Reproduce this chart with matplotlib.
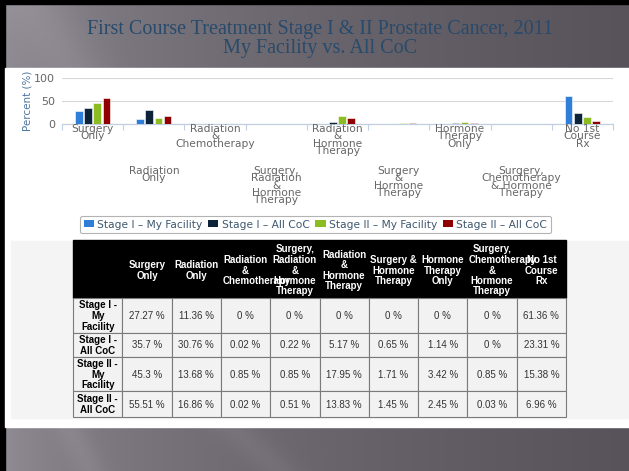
import numpy as np
import matplotlib
matplotlib.use('Agg')
from matplotlib import pyplot as plt
from matplotlib.patches import Rectangle, Patch
from matplotlib.transforms import blended_transform_factory

# ---- data -------------------------------------------------------------
chart_labels = ['Surgery\nOnly', 'Radiation\nOnly', 'Radiation\n&\nChemotherapy',
                'Surgery,\nRadiation\n&\nHormone\nTherapy',
                'Radiation\n&\nHormone\nTherapy', 'Surgery\n&\nHormone\nTherapy',
                'Hormone\nTherapy\nOnly', 'Surgery,\nChemotherapy\n& Hormone\nTherapy',
                'No 1st\nCourse\nRx']
table_headers = ['Surgery\nOnly', 'Radiation\nOnly', 'Radiation\n&\nChemotherapy',
                 'Surgery,\nRadiation\n&\nHormone\nTherapy',
                 'Radiation\n&\nHormone\nTherapy', 'Surgery &\nHormone\nTherapy',
                 'Hormone\nTherapy\nOnly', 'Surgery,\nChemotherapy\n&\nHormone\nTherapy',
                 'No 1st\nCourse\nRx']
series_names = ['Stage I \u2013 My Facility', 'Stage I \u2013 All CoC',
                'Stage II \u2013 My Facility', 'Stage II \u2013 All CoC']
row_labels = ['Stage I -\nMy\nFacility', 'Stage I -\nAll CoC',
              'Stage II -\nMy\nFacility', 'Stage II -\nAll CoC']
colors = ['#2f7ed8', '#0d233a', '#8bbc21', '#910000']

stage1_my = [27.27, 11.36, 0, 0, 0, 0, 0, 0, 61.36]
stage1_coc = [35.7, 30.76, 0.02, 0.22, 5.17, 0.65, 1.14, 0, 23.31]
stage2_my = [45.3, 13.68, 0.85, 0.85, 17.95, 1.71, 3.42, 0.85, 15.38]
stage2_coc = [55.51, 16.86, 0.02, 0.51, 13.83, 1.45, 2.45, 0.03, 6.96]
series = [stage1_my, stage1_coc, stage2_my, stage2_coc]

title = 'First Course Treatment Stage I & II Prostate Cancer, 2011\nMy Facility vs. All CoC'

W, H = 629, 471
fig = plt.figure(figsize=(W / 100, H / 100), dpi=100)


def px_axes(x0, y0, x1, y1):
    return fig.add_axes([x0 / W, 1 - y1 / H, (x1 - x0) / W, (y1 - y0) / H])


# ---- slide background -------------------------------------------------
bg = fig.add_axes([0, 0, 1, 1])
bg.set_xlim(0, W)
bg.set_ylim(H, 0)
bg.axis('off')

xx, yy = np.meshgrid(np.arange(W), np.arange(H))
t = xx / W
img = np.zeros((H, W, 3))
left = np.array([150, 146, 154]) / 255
right = np.array([88, 83, 90]) / 255
for k in range(3):
    img[:, :, k] = left[k] + (right[k] - left[k]) * np.sqrt(t)
streak1 = np.exp(-((xx - (70 + 0.5 * (yy - 430))) / 16.0) ** 2)
streak2 = np.exp(-((xx - (235 + 1.1 * (yy - 430))) / 22.0) ** 2)
streak3 = np.exp(-((xx - (30 + 0.6 * yy)) / 35.0) ** 2) * (yy < 80)
img += (0.035 * streak1 + 0.03 * streak2 + 0.04 * streak3)[:, :, None]
bg.imshow(np.clip(img, 0, 1), extent=[0, W, H, 0], aspect='auto', zorder=0)

bg.add_patch(Rectangle((0, 0), 5, H, color='black', zorder=1))
bg.add_patch(Rectangle((0, 0), W, 4, color='black', zorder=1))
bg.add_patch(Rectangle((5, 68), W - 5, 359, color='white', zorder=1))
bg.add_patch(Rectangle((11, 241), 617, 177, color='#f4f4f4', zorder=1))

bg.text(320, 39, title, ha='center', va='center', fontsize=14.5,
        family='Liberation Serif', color='#284a6b', linespacing=0.95, zorder=2)

# ---- chart -------------------------------------------------------------
ax = px_axes(62, 78, 613, 124)
ax.set_facecolor('none')
x = np.arange(len(chart_labels))
offsets = [-1.5, -0.5, 0.5, 1.5]
for vals, off, c in zip(series, offsets, colors):
    ax.bar(x + off * 0.15, vals, width=0.125, color=c, edgecolor='white',
           linewidth=0.4, zorder=3)

ax.set_xlim(-0.5, len(chart_labels) - 0.5)
ax.set_ylim(0, 100)
ax.set_yticks([0, 50, 100])
ax.yaxis.grid(True, color='#d8d8d8', linewidth=0.8)
ax.set_axisbelow(True)
for s in ['top', 'right', 'left']:
    ax.spines[s].set_visible(False)
ax.spines['bottom'].set_color('#c0d0e0')
ax.spines['bottom'].set_linewidth(0.9)
ax.set_xticks(np.arange(-0.5, len(chart_labels)))
ax.set_xticklabels([])
ax.tick_params(axis='x', length=4, width=0.8, color='#c0d0e0', direction='out')
ax.tick_params(axis='y', length=0, pad=5, labelsize=8, labelcolor='#666666')

fig.text(28 / W, 1 - 101 / H, 'Percent (%)', rotation=90, ha='center', va='center',
         fontsize=7.5, color='#4d759e')

mix = blended_transform_factory(ax.transData, bg.transData)
for i, lab in enumerate(chart_labels):
    ypos = 124 if i % 2 == 0 else 166
    ax.text(i, ypos, lab, transform=mix, ha='center', va='top', fontsize=7.7,
            color='#666666', linespacing=0.66, clip_on=False)

handles = [Patch(facecolor=c, edgecolor='none') for c in colors]
leg = fig.legend(handles, series_names, loc='center',
                 bbox_to_anchor=((82 + 549) / 2 / W, 1 - 224.5 / H), ncol=4,
                 fontsize=7.7, frameon=True, handlelength=0.95, handleheight=0.65,
                 handletextpad=0.3, columnspacing=0.55, borderpad=0.35,
                 borderaxespad=0)
leg.get_frame().set_edgecolor('#a0a0a0')
leg.get_frame().set_linewidth(0.8)
for txt in leg.get_texts():
    txt.set_color('#3e576f')

# ---- table -------------------------------------------------------------
col_x = np.linspace(73, 566, 11)
row_y = [240, 298, 333, 357, 391, 417]
bg.add_patch(Rectangle((col_x[0], row_y[0]), col_x[-1] - col_x[0],
                       row_y[1] - row_y[0], color='black', zorder=2))
renderer = fig.canvas.get_renderer()
line_h = 10.5


def cell_lines(x0, x1, yc, text, **kw):
    lines = text.split('\n')
    n = len(lines)
    for i, ln in enumerate(lines):
        yb = yc + (i - (n - 1) / 2) * line_h + 3.5
        tt = bg.text((x0 + x1) / 2, yb, ln, ha='center', va='baseline',
                     fontsize=7, family='Liberation Sans', zorder=4, **kw)
        if tt.get_window_extent(renderer).width > (x1 - x0) - 2:
            tt.set_ha('left')
            tt.set_x(x0 + 1.5)


header_mid = (row_y[0] + row_y[1]) / 2 + 1
for j, head in enumerate(table_headers):
    cell_lines(col_x[j + 1], col_x[j + 2], header_mid, head, color='white',
               fontweight='bold')

for r, (lab, vals) in enumerate(zip(row_labels, series)):
    y0, y1 = row_y[r + 1], row_y[r + 2]
    for c in range(10):
        bg.add_patch(Rectangle((col_x[c], y0), col_x[c + 1] - col_x[c], y1 - y0,
                               facecolor='#f2f2f2', edgecolor='#7a7a7a',
                               linewidth=0.8, zorder=2))
    cell_lines(col_x[0], col_x[1], (y0 + y1) / 2, lab, color='black',
               fontweight='bold')
    for c, v in enumerate(vals):
        cell_lines(col_x[c + 1], col_x[c + 2], (y0 + y1) / 2, f'{v:g} %',
                   color='#333333')

fig.savefig('out.png', dpi=100)
